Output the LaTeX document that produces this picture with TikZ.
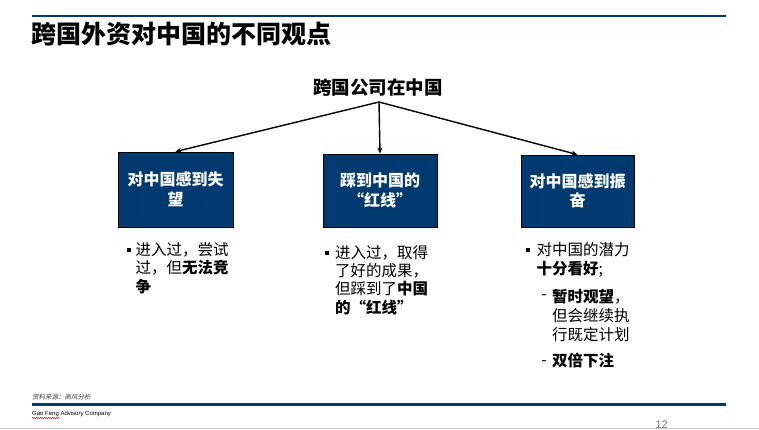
\documentclass[tikz,border=0pt]{standalone}
\usepackage{fontspec}
\setmainfont{Liberation Sans}
\newfontfamily\cjk{Noto Sans CJK SC}
\newfontfamily\cjkit{Noto Sans CJK SC}[FakeSlant=0.2]
\usetikzlibrary{arrows.meta,decorations.pathmorphing}
\definecolor{navy}{RGB}{0,58,112}
\begin{document}
\begin{tikzpicture}[x=1pt,y=-1pt,
  box/.style={draw=black, line width=0.8pt, fill=navy, text=white, align=center,
    inner sep=0pt, font=\cjk\bfseries\fontsize{16}{19.5}\selectfont},
  arr/.style={draw=black, line width=1.4pt, -{Stealth[length=6pt,width=5pt]}},
  bodytext/.style={anchor=north west, inner sep=0pt, align=left,
    font=\cjk\fontsize{15.5}{18.4}\selectfont},
  bulletsq/.style={fill=black, inner sep=0pt, minimum size=4pt},
  dashmark/.style={inner sep=0pt, font=\cjk\fontsize{15.5}{18}\selectfont}
]
\useasboundingbox (0,0) rectangle (759,430);
% header
\draw[navy, line width=2pt] (32,16.5) -- (726,16.5);
\node[anchor=west, inner sep=0pt, font=\cjk\bfseries\fontsize{25}{30}\selectfont] (title) at (31,34) {跨国外资对中国的不同观点};
% top node
\node[inner sep=0pt, font=\cjk\bfseries\fontsize{18.5}{22}\selectfont] (top) at (378,88) {跨国公司在中国};
\coordinate (src) at (379,102);
% boxes
\node[box, minimum width=115pt, minimum height=75pt] (b1) at (175.5,189.5) {对中国感到失\\望};
\node[box, minimum width=114pt, minimum height=73pt] (b2) at (380,190.5) {踩到中国的\\“红线”};
\node[box, minimum width=113pt, minimum height=72pt] (b3) at (577.5,191) {对中国感到振\\奋};
% arrows
\draw[arr] (src) -- (b1.north);
\draw[arr] (src) -- (b2.north);
\draw[arr] (src) -- (b3.north);
% bullets
\node[bulletsq] (sq1) at (129,250) {};
\node[bodytext] (t1) at (135.5,242) {进入过，尝试\\过，但{\bfseries 无法竞}\\{\bfseries 争}};
\node[bulletsq] (sq2) at (327,252.5) {};
\node[bodytext] (t2) at (335,245) {进入过，取得\\了好的成果，\\但踩到了{\bfseries 中国}\\{\bfseries 的“红线”}};
\node[bulletsq] (sq3) at (527.5,250) {};
\node[bodytext] (t3) at (536.5,242.5) {对中国的潜力\\{\bfseries 十分看好};};
\node[dashmark] (d1) at (544,297) {-};
\node[bodytext, font=\cjk\fontsize{15.5}{19.2}\selectfont] (t4) at (552,288.5) {{\bfseries 暂时观望}，\\但会继续执\\行既定计划};
\node[dashmark] (d2) at (544,363) {-};
\node[bodytext] (t5) at (552,352.5) {{\bfseries 双倍下注}};
% footer
\node[anchor=west, inner sep=0pt, text=black!75, font=\cjkit\fontsize{6.5}{8}\selectfont] (source) at (32,397.5) {资料来源：高风分析};
\draw[navy, line width=2.2pt] (32,404.5) -- (726,404.5);
\node[anchor=west, inner sep=0pt, font=\fontsize{6}{7}\selectfont] (company) at (32,414) {Gao Feng Advisory Company};
\draw[red, line width=0.4pt, decorate, decoration={snake, amplitude=0.6pt, segment length=2pt}] (32,418) -- (60,418);
\node[inner sep=0pt, text=black!55, font=\fontsize{11}{12}\selectfont] (page) at (661.7,424.5) {12};
\draw[black!22, line width=1.2pt] (0,428.5) -- (759,428.5);
\end{tikzpicture}
\end{document}
